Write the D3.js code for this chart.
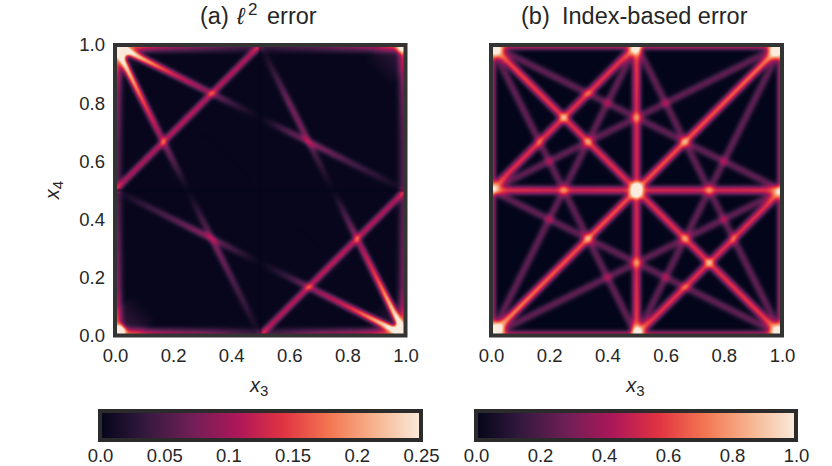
<!DOCTYPE html>
<meta charset="utf-8">
<style>
  body { margin: 0; background: #fff; }
  text { font-family: "Liberation Sans", Arial, sans-serif; fill: #262626; }
</style>
<svg width="832" height="466"></svg>
<script src="https://d3js.org/d3.v7.min.js"></script>
<script>
  // rocket colormap, evenly spaced
  var rocket = ["#03051a", "#35193e", "#701f57", "#ad1759", "#e13342", "#f37651", "#f6b48f", "#faebdd"];
  var axisTicks = [0, 0.2, 0.4, 0.6, 0.8, 1];
  var barTicksA = [0, 0.05, 0.1, 0.15, 0.2, 0.25];
  var barLabelsA = ["0.0", "0.05", "0.1", "0.15", "0.2", "0.25"];
  var barTicksB = [0, 0.2, 0.4, 0.6, 0.8, 1];

  // bands: x1, y1, x2, y2, then values along the band
  var bandsA = [
    [0, 0.5, 0.5, 1, 0.09, 0.1, 0.095],
    [0.5, 0, 1, 0.5, 0.095, 0.1, 0.09],
    [0, 1, 0.5, 0.75, 0.25, 0.18, 0.11, 0.08, 0.03, 0],
    [0, 1, 0.25, 0.5, 0.25, 0.19, 0.13, 0.09, 0.045, 0],
    [1, 0, 0.5, 0.25, 0.25, 0.18, 0.11, 0.08, 0.03, 0],
    [1, 0, 0.75, 0.5, 0.25, 0.19, 0.13, 0.09, 0.045, 0],
    [0.5, 1, 0.75, 0.5, 0, 0.03, 0.06, 0.065, 0.03, 0],
    [0.5, 0.75, 1, 0.5, 0, 0.045, 0.065, 0.04, 0.022, 0],
    [0, 0.5, 0.5, 0.25, 0, 0.027, 0.045, 0.07, 0.035, 0],
    [0.25, 0.5, 0.5, 0, 0, 0.035, 0.065, 0.045, 0.027, 0]
  ];
  var edgesA = [
    [0, 0, 0, 1, 0.065, 0.035, 0.028, 0.02, 0.025, 0.035, 0.07],
    [1, 0, 1, 1, 0.065, 0.03, 0.025, 0.02, 0.02, 0.028, 0.05],
    [0, 1, 1, 1, 0.07, 0.04, 0.025, 0.012, 0.02, 0.032, 0.05],
    [0, 0, 1, 0, 0.065, 0.04, 0.03, 0.012, 0.03, 0.04, 0.065]
  ];
  var cornersA = [
    [0.005, 0.995, 0.04, 0.965, 0.25, 0.16],
    [0.005, 0.005, 0.03, 0.03, 0.25, 0.13],
    [0.995, 0.005, 0.965, 0.03, 0.25, 0.15],
    [0.995, 0.995, 0.975, 0.98, 0.14, 0.1]
  ];
  var hazeA = [
    [0, 0, 0.1, 0.1, 0.03, 0],
    [1, 0, 0.9, 0.1, 0.025, 0],
    [0, 1, 0.08, 0.92, 0.03, 0],
    [1, 1, 0.9, 0.9, 0.025, 0]
  ];
  var darkLinesA = [
    [0.5, 0, 0.5, 1],
    [0, 0.5, 1, 0.5],
    [0.3, 0.7, 0.47, 0.53],
    [0.53, 0.47, 0.7, 0.3]
  ];
  var strongB = [
    [0, 0, 1, 1, 0.72, 0.6, 0.6, 0.6, 0.68],
    [0, 1, 1, 0, 0.6, 0.52, 0.52, 0.52, 0.56],
    [0.5, 0, 0.5, 1, 0.58, 0.5, 0.5, 0.5, 0.58],
    [0, 0.5, 1, 0.5, 0.54, 0.48, 0.5, 0.48, 0.54],
    [0, 0.5, 0.5, 1, 0.52, 0.52, 0.54],
    [0.5, 0, 1, 0.5, 0.54, 0.52, 0.52]
  ];
  var weakB = [
    [0, 1, 0.5, 0, 0.27],
    [0, 0, 0.5, 1, 0.27],
    [0.5, 0, 1, 1, 0.27],
    [0.5, 1, 1, 0, 0.27],
    [0, 1, 1, 0.5, 0.27],
    [0, 0, 1, 0.5, 0.27],
    [0, 0.5, 1, 1, 0.27],
    [0, 0.5, 1, 0, 0.27]
  ];
  var edgesB = [
    [0.002, 0, 0.002, 1, 0.5],
    [0.998, 0, 0.998, 1, 0.5],
    [0, 0.998, 1, 0.998, 0.5],
    [0, 0.002, 1, 0.002, 0.5]
  ];
  var cornersB = [
    [0.005, 0.005, 0.035, 0.035, 0.7, 0.5],
    [0.995, 0.995, 0.965, 0.965, 0.7, 0.5],
    [0.005, 0.995, 0.03, 0.97, 0.5, 0.42],
    [0.995, 0.005, 0.97, 0.03, 0.45, 0.4],
    [0.485, 0.5, 0.515, 0.5, 0.85, 0.85],
    [0.485, 0.995, 0.515, 0.995, 0.5, 0.5],
    [0.485, 0.005, 0.515, 0.005, 0.5, 0.5]
  ];

  var svg = d3.select("svg");
  var defs = svg.append("defs");
  var gradId = 0;

  function channel(name) {
    return rocket.map(function(c) { return d3.rgb(c)[name] / 255; }).join(" ");
  }

  // blurred alpha is taken as the error level and pushed through the colormap
  function makeFilter(id, box, sigma, gain, base) {
    var f = defs.append("filter")
      .attr("id", id)
      .attr("filterUnits", "userSpaceOnUse")
      .attr("x", box[0]).attr("y", box[1]).attr("width", box[2]).attr("height", box[3])
      .attr("color-interpolation-filters", "sRGB");
    f.append("feGaussianBlur").attr("in", "SourceGraphic").attr("stdDeviation", sigma);
    f.append("feColorMatrix").attr("type", "matrix")
      .attr("values", "0 0 0 " + gain + " " + base + " 0 0 0 " + gain + " " + base + " 0 0 0 " + gain + " " + base + " 0 0 0 0 1");
    var t = f.append("feComponentTransfer");
    t.append("feFuncR").attr("type", "table").attr("tableValues", channel("r"));
    t.append("feFuncG").attr("type", "table").attr("tableValues", channel("g"));
    t.append("feFuncB").attr("type", "table").attr("tableValues", channel("b"));
  }

  function drawBands(g, rows, x, y, level, width) {
    g.selectAll(null).data(rows).enter().append("line")
      .attr("x1", function(d) { return x(d[0]); })
      .attr("y1", function(d) { return y(d[1]); })
      .attr("x2", function(d) { return x(d[2]); })
      .attr("y2", function(d) { return y(d[3]); })
      .attr("stroke-width", width)
      .attr("stroke", function(d) {
        var id = "band" + (gradId++);
        var vals = d.slice(4);
        if (vals.length == 1) vals = [vals[0], vals[0]];
        var gr = defs.append("linearGradient").attr("id", id)
          .attr("gradientUnits", "userSpaceOnUse")
          .attr("x1", x(d[0])).attr("y1", y(d[1]))
          .attr("x2", x(d[2])).attr("y2", y(d[3]));
        vals.forEach(function(v, i) {
          gr.append("stop")
            .attr("offset", i / (vals.length - 1))
            .attr("stop-color", "#000")
            .attr("stop-opacity", level(v));
        });
        return "url(#" + id + ")";
      });
  }

  function panel(opt) {
    var x = d3.scaleLinear().domain([0, 1]).range(opt.xr);
    var y = d3.scaleLinear().domain([0, 1]).range([335.5, 45]);
    var level = d3.scaleLinear().domain([0, opt.vmax]).range([0, 1]).clamp(true);
    var w = opt.xr[1] - opt.xr[0], h = 290.5;

    defs.append("clipPath").attr("id", opt.id + "clip").append("rect")
      .attr("x", opt.xr[0]).attr("y", 45).attr("width", w).attr("height", h);
    makeFilter(opt.id + "map", [opt.xr[0] - 20, 25, w + 40, h + 40], opt.sigma, opt.gain, opt.base);

    var clip = svg.append("g").attr("clip-path", "url(#" + opt.id + "clip)");
    var heat = clip.append("g").attr("filter", "url(#" + opt.id + "map)");
    // each layer is rows + stroke width
    opt.layers.forEach(function(l) {
      drawBands(heat, l[0], x, y, level, l[1]);
    });

    if (opt.dark) {
      clip.selectAll(null).data(opt.dark).enter().append("line")
        .attr("x1", function(d) { return x(d[0]); })
        .attr("y1", function(d) { return y(d[1]); })
        .attr("x2", function(d) { return x(d[2]); })
        .attr("y2", function(d) { return y(d[3]); })
        .attr("stroke", rocket[0]).attr("stroke-opacity", 0.35).attr("stroke-width", 3);
    }

    svg.append("rect")
      .attr("x", opt.xr[0]).attr("y", 45).attr("width", w).attr("height", h)
      .attr("fill", "none").attr("stroke", "#333").attr("stroke-width", 4);

    var xAxis = svg.append("g").attr("transform", "translate(0,335.5)")
      .call(d3.axisBottom(x).tickValues(axisTicks).tickSize(0).tickPadding(13).tickFormat(d3.format(".1f")));
    xAxis.select(".domain").remove();
    xAxis.selectAll("text").attr("font-size", 18.5).attr("font-family", null);

    if (opt.yAxis) {
      var yAxis = svg.append("g").attr("transform", "translate(" + opt.xr[0] + ",0)")
        .call(d3.axisLeft(y).tickValues(axisTicks).tickSize(0).tickPadding(10).tickFormat(d3.format(".1f")));
      yAxis.select(".domain").remove();
      yAxis.selectAll("text").attr("font-size", 18.5).attr("font-family", null);
    }

    var xl = svg.append("text").attr("x", (opt.xr[0] + opt.xr[1]) / 2 - 1).attr("y", 392)
      .attr("text-anchor", "middle").attr("font-size", 20);
    xl.append("tspan").attr("font-style", "italic").text("x");
    xl.append("tspan").attr("font-size", 15).attr("dy", 4).text("3");
  }

  function colorbar(id, x0, x1, vmax, ticks, labels) {
    var x = d3.scaleLinear().domain([0, vmax]).range([x0, x1]);
    var gr = defs.append("linearGradient").attr("id", id);
    rocket.forEach(function(c, i) {
      gr.append("stop").attr("offset", i / (rocket.length - 1)).attr("stop-color", c);
    });
    svg.append("rect")
      .attr("x", x0).attr("y", 411).attr("width", x1 - x0).attr("height", 29)
      .attr("fill", "url(#" + id + ")")
      .attr("stroke", "#2b2b2b").attr("stroke-width", 4);
    var ax = svg.append("g").attr("transform", "translate(0,440)")
      .call(d3.axisBottom(x).tickValues(ticks).tickSize(0).tickPadding(9)
        .tickFormat(function(d, i) { return labels[i]; }));
    ax.select(".domain").remove();
    ax.selectAll("text").attr("font-size", 18.5).attr("font-family", null);
  }

  panel({
    id: "a", xr: [115, 405.5], vmax: 0.25, yAxis: true, dark: darkLinesA,
    sigma: 2.3, gain: 1.6, base: 0.012,
    layers: [[hazeA, 34], [edgesA, 14], [edgesA, 6], [bandsA, 4.5], [cornersA, 9]]
  });
  panel({
    id: "b", xr: [491, 782], vmax: 1, yAxis: false,
    sigma: 2.4, gain: 1.42, base: 0,
    layers: [[edgesB, 5], [weakB, 4.5], [strongB, 5.5], [cornersB, 14]]
  });

  colorbar("barA", 100, 421, 0.25, barTicksA, barLabelsA);
  colorbar("barB", 476, 796, 1, barTicksB, barTicksB.map(d3.format(".1f")));

  // titles
  function titlePart(x, s, size, y, style) {
    svg.append("text").attr("x", x).attr("y", y).attr("font-size", size)
      .attr("font-style", style || null).text(s);
  }
  titlePart(200, "(a)", 23.5, 24);
  titlePart(237, "\u2113", 23.5, 24, "italic");
  titlePart(248, "2", 17, 15);
  titlePart(267, "error", 23.5, 24);
  titlePart(521, "(b)", 23.5, 24);
  titlePart(562, "Index-based error", 23.5, 24);

  var yl = svg.append("text").attr("transform", "translate(59,190) rotate(-90)")
    .attr("text-anchor", "middle").attr("font-size", 20);
  yl.append("tspan").attr("font-style", "italic").text("x");
  yl.append("tspan").attr("font-size", 15).attr("dy", 4).text("4");
</script>
